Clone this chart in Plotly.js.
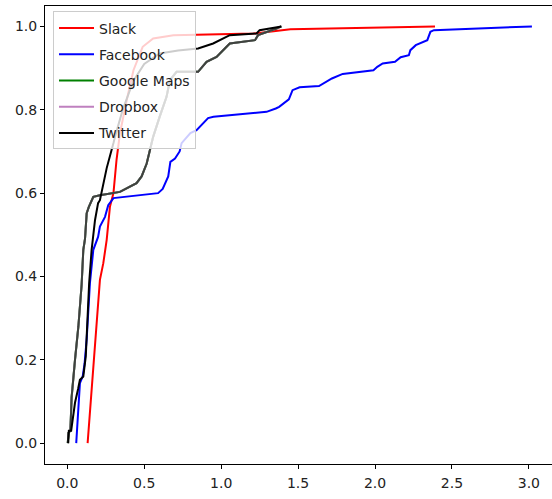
<!DOCTYPE html>
<html>
<head>
<meta charset="utf-8">
<script src="https://cdn.plot.ly/plotly-3.0.1.min.js"></script>
<style>
html, body { margin: 0; padding: 0; overflow: hidden; background: #fff; }
#chart { width: 555px; height: 499px; }
</style>
</head>
<body>
<div id="chart"></div>
<script>
// Series names (legend order)
const seriesNames = ["Slack", "Facebook", "Google Maps", "Dropbox", "Twitter"];

// Slack (CDF)
const slackX = [0.132,0.158,0.18,0.2,0.212,0.234,0.256,0.277,0.30,0.32,0.342,0.386,0.43,0.49,0.558,0.69,1.21,1.355,1.45,2.39];
const slackY = [0,0.128,0.224,0.344,0.392,0.432,0.488,0.567,0.6,0.68,0.743,0.823,0.895,0.951,0.971,0.979,0.983,0.989,0.993,1.0];

// Facebook (CDF)
const facebookX = [0.058,0.082,0.10,0.112,0.126,0.147,0.169,0.20,0.212,0.245,0.266,0.30,0.59,0.62,0.656,0.67,0.70,0.73,0.743,0.80,0.84,0.915,0.95,1.295,1.355,1.377,1.44,1.464,1.51,1.636,1.72,1.79,1.99,2.015,2.05,2.13,2.167,2.22,2.23,2.265,2.34,2.36,2.383,3.02];
const facebookY = [0,0.144,0.16,0.19,0.25,0.384,0.464,0.495,0.52,0.543,0.571,0.588,0.6,0.61,0.64,0.675,0.683,0.70,0.72,0.744,0.751,0.78,0.783,0.795,0.803,0.807,0.825,0.847,0.854,0.857,0.875,0.886,0.895,0.903,0.911,0.915,0.926,0.931,0.943,0.955,0.967,0.987,0.991,1.0];

// Google Maps and Dropbox (the two curves overlap in the picture)
const mapsX = [0.003,0.008,0.02,0.028,0.05,0.072,0.093,0.104,0.115,0.126,0.14,0.169,0.212,0.342,0.45,0.483,0.516,0.537,0.558,0.60,0.645,0.667,0.71,0.85,0.905,0.97,1.056,1.22,1.24,1.36,1.39];
const mapsY = [0,0.025,0.03,0.11,0.2,0.28,0.38,0.464,0.49,0.552,0.567,0.591,0.595,0.603,0.624,0.64,0.671,0.703,0.735,0.783,0.831,0.871,0.891,0.891,0.915,0.927,0.959,0.967,0.979,0.995,1.0];
const dropboxX = mapsX.slice();
const dropboxY = mapsY.slice();

// Twitter (CDF)
const twitterX = [0.006,0.01,0.025,0.05,0.07,0.082,0.104,0.12,0.142,0.158,0.18,0.20,0.212,0.256,0.30,0.31,0.36,0.43,0.50,0.60,0.72,0.85,0.948,1.056,1.23,1.25,1.392];
const twitterY = [0,0.03,0.03,0.097,0.13,0.152,0.16,0.208,0.384,0.464,0.535,0.576,0.583,0.66,0.72,0.735,0.80,0.87,0.91,0.935,0.942,0.947,0.959,0.979,0.983,0.991,1.0];

const xTicks = [0, 0.5, 1.0, 1.5, 2.0, 2.5, 3.0];
const yTicks = [0, 0.2, 0.4, 0.6, 0.8, 1.0];

const W = 2;
function tr(name, x, y, color, extra) {
  return Object.assign({
    type: "scatter", mode: "lines", name: name, x: x, y: y,
    legendgroup: name,
    line: { color: color, width: W }
  }, extra || {});
}

const traces = [
  tr(seriesNames[0], slackX, slackY, "#ff0000"),
  tr(seriesNames[1], facebookX, facebookY, "#0000ff"),
  tr(seriesNames[2], mapsX, mapsY, "#008000"),
  tr(seriesNames[3], dropboxX, dropboxY, "#bf80bf"),
  // overlap of Google Maps + Dropbox renders as a dark grey curve in the picture
  tr("overlap", mapsX, mapsY, "#3d433d", { showlegend: false, legendgroup: "overlap" }),
  tr(seriesNames[4], twitterX, twitterY, "#000000")
];

const fontFam = "DejaVu Sans, sans-serif";
const layout = {
  width: 555, height: 499,
  margin: { l: 45, r: 0, t: 6, b: 35 },
  paper_bgcolor: "#fff", plot_bgcolor: "#fff",
  showlegend: true,
  legend: {
    x: 0.0157, y: 0.988, xanchor: "left", yanchor: "top",
    bgcolor: "rgba(255,255,255,0.8)", bordercolor: "#cccccc", borderwidth: 1,
    font: { family: fontFam, size: 14, color: "#222" },
    traceorder: "grouped", tracegroupgap: 5, itemwidth: 35
  },
  xaxis: {
    range: [-0.145, 3.17], tickvals: xTicks, tickformat: ".1f",
    showgrid: false, zeroline: false,
    showline: true, linecolor: "#000", linewidth: 1, mirror: true,
    ticks: "outside", ticklen: 4, tickcolor: "#000", ticklabelstandoff: 2,
    tickfont: { family: fontFam, size: 14, color: "#222" }
  },
  yaxis: {
    range: [-0.05, 1.049], tickvals: yTicks, tickformat: ".1f",
    showgrid: false, zeroline: false,
    showline: true, linecolor: "#000", linewidth: 1, mirror: true,
    ticks: "outside", ticklen: 4, tickcolor: "#000",
    tickfont: { family: fontFam, size: 14, color: "#222" }
  }
};

Plotly.newPlot("chart", traces, layout, { staticPlot: true, displayModeBar: false });
</script>
</body>
</html>
